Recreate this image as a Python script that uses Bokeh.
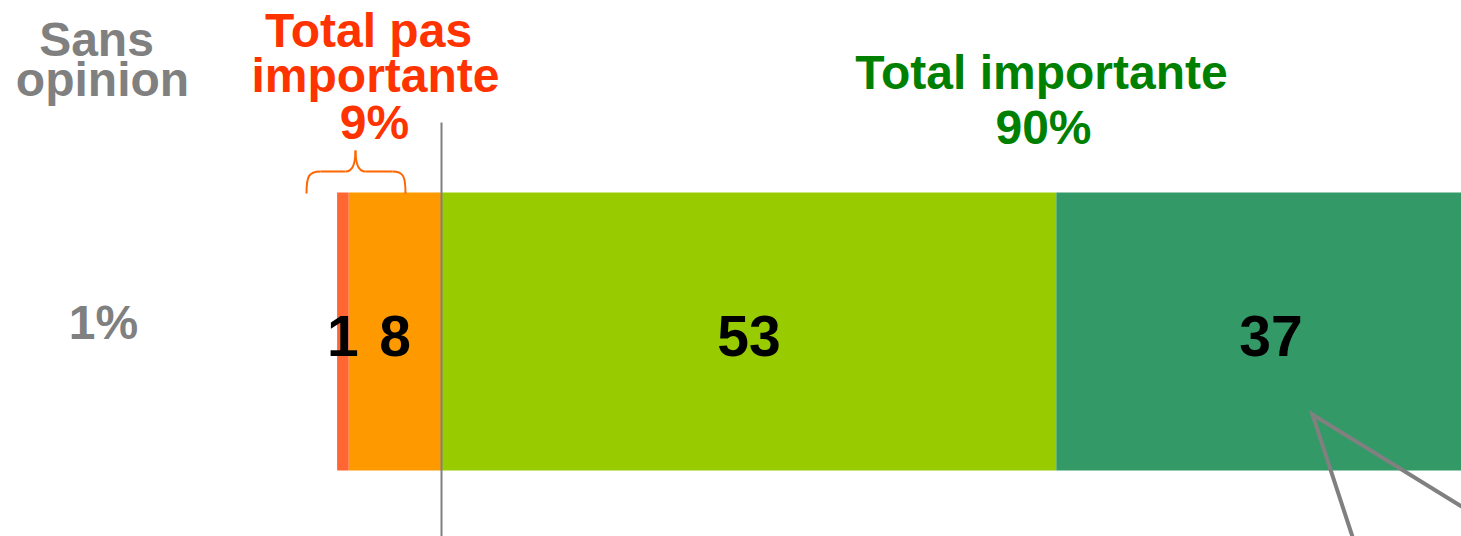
from bokeh.plotting import figure
from bokeh.models import Range1d, ColumnDataSource
from bokeh.core.properties import value
from bokeh.embed import file_html
from bokeh.resources import INLINE

# ---- data ----
neg_labels = ["Pas du tout importante", "Pas vraiment importante"]
neg_values = [1, 8]
neg_colors = ["#FF6633", "#FF9900"]
pos_labels = ["Plutôt importante", "Très importante"]
pos_values = [53, 37]
pos_colors = ["#99CC00", "#339966"]
sans_opinion = 1
total_neg = 9
total_pos = 90

# ---- geometry (screen -> data) ----
W, H = 1461, 536
OFF = 0
ZERO_PX = 441.0
SCALE = 11.6  # px per percentage point
TSHIFT = -18  # baseline correction for text


def dx(px):
    return (px - ZERO_PX) / SCALE


p = figure(width=W, height=H, output_backend="svg", toolbar_location=None,
           x_range=Range1d(dx(OFF), dx(OFF + W)),
           y_range=Range1d(OFF + H, OFF), min_border=0)
p.axis.visible = False
p.grid.visible = False
p.outline_line_color = None
p.background_fill_color = "white"

font = value("Liberation Sans")

# stacked segments
lefts, rights, colors, vals = [], [], [], []
cur = 0
for v, c in zip(reversed(neg_values), reversed(neg_colors)):
    lefts.append(cur - v); rights.append(cur); colors.append(c); vals.append(v)
    cur -= v
cur = 0
for v, c in zip(pos_values, pos_colors):
    lefts.append(cur); rights.append(cur + v); colors.append(c); vals.append(v)
    cur += v

src = ColumnDataSource(dict(left=lefts, right=rights, color=colors,
                            y=[331] * len(vals),
                            mid=[(l + r) / 2 for l, r in zip(lefts, rights)],
                            ty=[353 + TSHIFT] * len(vals),
                            txt=[str(v) for v in vals]))
p.hbar(y="y", left="left", right="right", height=278, fill_color="color",
       line_color=None, source=src)
p.text(x="mid", y="ty", text="txt", source=src, text_align="center",
       text_baseline="alphabetic", text_font=font, text_font_style="bold",
       text_font_size="57px", text_color="black")

# zero line
p.segment(x0=[0], y0=[122], x1=[0], y1=[545], line_color="#808080", line_width=2)

# brace over negative total
bx = dict(x0=[dx(306), dx(345), dx(355), dx(392)],
          y0=[193, 171, 150, 171],
          x1=[dx(320), dx(355), dx(365), dx(405)],
          y1=[171, 150, 171, 193],
          cx0=[dx(306), dx(352), dx(355), dx(403)],
          cy0=[176, 171, 162, 171],
          cx1=[dx(308), dx(355), dx(358), dx(405)],
          cy1=[171, 162, 171, 176])
p.bezier(**bx, line_color="#FF6600", line_width=2)
p.segment(x0=[dx(320), dx(365)], y0=[171, 171], x1=[dx(345), dx(392)], y1=[171, 171],
          line_color="#FF6600", line_width=2)

# callout triangle lines
p.line(x=[dx(1365), dx(1312), dx(1500)], y=[576, 414, 530], line_color="#808080",
       line_width=4, line_join="miter")

# texts
def txt(x, y, s, color, size="48px"):
    p.text(x=[x], y=[y + TSHIFT], text=[s], text_align="center",
           text_baseline="alphabetic", text_font=font, text_font_style="bold",
           text_font_size=size, text_color=color)

txt(dx(96), 57, "Sans", "#808080")
txt(dx(102), 97, "opinion", "#808080")
txt(dx(103), 340, f"{sans_opinion}%", "#808080")

txt(dx(368), 48, "Total pas", "#FF3300")
txt(dx(375), 93, "importante", "#FF3300")
txt(dx(374), 140, f"{total_neg}%", "#FF3300")

txt(dx(1041), 90, "Total importante", "#008000")
txt(dx(1043), 145, f"{total_pos}%", "#008000")

open("out.html", "w").write(file_html(p, INLINE))
